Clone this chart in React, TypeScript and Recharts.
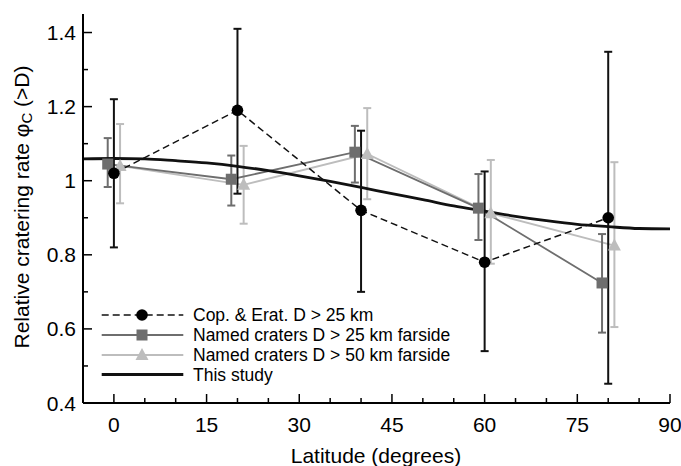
import React from 'react';
import { LineChart, Line, XAxis, YAxis, ErrorBar, Legend } from 'recharts';

// Cop. & Erat. D > 25 km
const latCop = [0, 20, 40, 60, 80];
const valCop = [1.02, 1.19, 0.92, 0.78, 0.9];
const lowCop = [0.82, 0.965, 0.7, 0.54, 0.452];
const highCop = [1.22, 1.41, 1.135, 1.025, 1.348];

// Named craters D > 25 km farside
const latN25 = [-1, 19, 39, 59, 79];
const valN25 = [1.045, 1.004, 1.077, 0.926, 0.724];
const lowN25 = [0.983, 0.933, 0.995, 0.84, 0.59];
const highN25 = [1.115, 1.068, 1.148, 1.018, 0.856];

// Named craters D > 50 km farside
const latN50 = [1, 21, 41, 61, 81];
const valN50 = [1.04, 0.989, 1.072, 0.912, 0.825];
const lowN50 = [0.939, 0.884, 0.95, 0.776, 0.605];
const highN50 = [1.153, 1.094, 1.196, 1.056, 1.05];

// This study
const latStudy = [-5, 0, 5, 10, 15, 20, 25, 30, 35, 40, 45, 50, 55, 60, 65, 70, 75, 80, 85, 90];
const valStudy = [1.059, 1.06, 1.059, 1.054, 1.048, 1.039, 1.027, 1.013, 0.998, 0.982, 0.965, 0.949, 0.932, 0.918, 0.904, 0.892, 0.882, 0.876, 0.871, 0.87];

const xTicks = [0, 5, 10, 15, 20, 25, 30, 35, 40, 45, 50, 55, 60, 65, 70, 75, 80, 85, 90];
const yTicks = [0.4, 0.5, 0.6, 0.7, 0.8, 0.9, 1.0, 1.1, 1.2, 1.3, 1.4];

const legendNames = [
  'Cop. & Erat. D > 25 km',
  'Named craters D > 25 km farside',
  'Named craters D > 50 km farside',
  'This study',
];

const FONT = '"Liberation Sans", Arial, Helvetica, sans-serif';
const DARK = '#6e6e6e';
const LIGHT = '#bdbdbd';
const BLACK = '#111';

const build = (lat: number[], val: number[], low: number[], high: number[]) =>
  lat.map((x, i) => ({ lat: x, v: val[i], err: [val[i] - low[i], high[i] - val[i]] }));

const copData = build(latCop, valCop, lowCop, highCop);
const n25Data = build(latN25, valN25, lowN25, highN25);
const n50Data = build(latN50, valN50, lowN50, highN50);
const studyData = latStudy.map((x, i) => ({ lat: x, v: valStudy[i] }));

const isMajorX = (v: number) => v % 15 === 0;
const isMajorY = (v: number) => Math.round(v * 10) % 2 === 0;

const XTickBottom = (props: any) => {
  const { x, y, payload } = props;
  const major = isMajorX(payload.value);
  return (
    <g>
      <line x1={x} x2={x} y1={y} y2={y - (major ? 9 : 5)} stroke="#000" strokeWidth={1.5} />
      {major && (
        <text x={x} y={y + 21} textAnchor="middle" dominantBaseline="central" fontSize={21} fontFamily={FONT} fill="#000">
          {payload.value}
        </text>
      )}
    </g>
  );
};

const XTickTop = (props: any) => {
  const { x, y, payload } = props;
  const major = isMajorX(payload.value);
  return <line x1={x} x2={x} y1={y} y2={y + (major ? 9 : 5)} stroke="#000" strokeWidth={1.5} />;
};

const YTickLeft = (props: any) => {
  const { x, y, payload } = props;
  const major = isMajorY(payload.value);
  const label = Math.abs(payload.value - 1) < 1e-9 ? '1' : payload.value.toFixed(1);
  return (
    <g>
      <line x1={x} x2={x + (major ? 9 : 5)} y1={y} y2={y} stroke="#000" strokeWidth={1.5} />
      {major && (
        <text x={x - 7} y={y} textAnchor="end" dominantBaseline="central" fontSize={21} fontFamily={FONT} fill="#000">
          {label}
        </text>
      )}
    </g>
  );
};

const YTickRight = (props: any) => {
  const { x, y, payload } = props;
  const major = isMajorY(payload.value);
  return <line x1={x} x2={x - (major ? 9 : 5)} y1={y} y2={y} stroke="#000" strokeWidth={1.5} />;
};

const Circle = (props: any) => {
  const { cx, cy, index } = props;
  return <circle key={`c${index}`} cx={cx} cy={cy} r={5.8} fill="#000" />;
};
const Square = (props: any) => {
  const { cx, cy, index } = props;
  return <rect key={`s${index}`} x={cx - 5.5} y={cy - 5.5} width={11} height={11} fill={DARK} />;
};
const Triangle = (props: any) => {
  const { cx, cy, index } = props;
  return <path key={`t${index}`} d={`M${cx},${cy - 7} L${cx + 6.5},${cy + 5} L${cx - 6.5},${cy + 5} Z`} fill={LIGHT} />;
};

const LegendContent = () => {
  const rows = [12, 32, 52, 71.5];
  const x1 = 6.7;
  const x2 = 88.3;
  const mx = 47;
  return (
    <svg width={400} height={90} style={{ display: 'block' }}>
      <line x1={x1} x2={x2} y1={rows[0]} y2={rows[0]} stroke={BLACK} strokeWidth={1.5} strokeDasharray="7 4" />
      <circle cx={mx} cy={rows[0]} r={5.8} fill="#000" />
      <line x1={x1} x2={x2} y1={rows[1]} y2={rows[1]} stroke={DARK} strokeWidth={1.8} />
      <rect x={mx - 5.5} y={rows[1] - 5.5} width={11} height={11} fill={DARK} />
      <line x1={x1} x2={x2} y1={rows[2]} y2={rows[2]} stroke={LIGHT} strokeWidth={1.8} />
      <path d={`M${mx},${rows[2] - 7} L${mx + 6.5},${rows[2] + 5} L${mx - 6.5},${rows[2] + 5} Z`} fill={LIGHT} />
      <line x1={x1} x2={x2} y1={rows[3]} y2={rows[3]} stroke={BLACK} strokeWidth={2.8} />
      {legendNames.map((n, i) => (
        <text key={n} x={98} y={rows[i]} dominantBaseline="central" fontSize={17.5} fontFamily={FONT} fill="#000">
          {n}
        </text>
      ))}
    </svg>
  );
};

const YLabel = () => (
  <text
    transform="translate(21,207) rotate(-90)"
    textAnchor="middle"
    dominantBaseline="central"
    fontSize={21}
    fontFamily={FONT}
    fill="#000"
  >
    Relative cratering rate φ
    <tspan fontSize={15} dy={5}>C</tspan>
    <tspan dy={-5}> (&gt;D)</tspan>
  </text>
);

const XLabel = () => (
  <text x={376} y={455} textAnchor="middle" dominantBaseline="central" fontSize={21} fontFamily={FONT} fill="#000">
    Latitude (degrees)
  </text>
);

export default function App() {
  return (
    <div style={{ position: 'absolute', left: 0, top: 0, background: '#fff' }}>
      <LineChart width={681} height={466} margin={{ top: 14, right: 11, bottom: 0, left: 0 }}>
        <XAxis
          xAxisId="b"
          dataKey="lat"
          type="number"
          domain={[-5, 90]}
          ticks={xTicks}
          allowDataOverflow
          height={63}
          axisLine={{ stroke: '#000', strokeWidth: 2 }}
          tickLine={false}
          tickSize={0}
          tickMargin={0}
          tick={<XTickBottom />}
          interval={0}
          label={{ content: () => <XLabel /> }}
        />
        <XAxis
          xAxisId="t"
          orientation="top"
          dataKey="lat"
          type="number"
          domain={[-5, 90]}
          ticks={xTicks}
          allowDataOverflow
          height={0}
          axisLine={{ stroke: '#000', strokeWidth: 2 }}
          tickLine={false}
          tickSize={0}
          tickMargin={0}
          tick={<XTickTop />}
          interval={0}
        />
        <YAxis
          yAxisId="l"
          type="number"
          domain={[0.4, 1.45]}
          ticks={yTicks}
          allowDataOverflow
          width={83}
          axisLine={{ stroke: '#000', strokeWidth: 2 }}
          tickLine={false}
          tickSize={0}
          tickMargin={0}
          tick={<YTickLeft />}
          interval={0}
          label={{ content: () => <YLabel /> }}
        />
        <YAxis
          yAxisId="r"
          orientation="right"
          type="number"
          domain={[0.4, 1.45]}
          ticks={yTicks}
          allowDataOverflow
          width={0}
          axisLine={{ stroke: '#000', strokeWidth: 2 }}
          tickLine={false}
          tickSize={0}
          tickMargin={0}
          tick={<YTickRight />}
          interval={0}
        />
        <Line
          xAxisId="b"
          yAxisId="l"
          data={n50Data}
          dataKey="v"
          stroke={LIGHT}
          strokeWidth={1.8}
          dot={<Triangle />}
          activeDot={false}
          isAnimationActive={false}
        >
          <ErrorBar dataKey="err" width={4} stroke={LIGHT} strokeWidth={2} direction="y" />
        </Line>
        <Line
          xAxisId="b"
          yAxisId="l"
          data={n25Data}
          dataKey="v"
          stroke={DARK}
          strokeWidth={1.8}
          dot={<Square />}
          activeDot={false}
          isAnimationActive={false}
        >
          <ErrorBar dataKey="err" width={4} stroke={DARK} strokeWidth={2} direction="y" />
        </Line>
        <Line
          xAxisId="b"
          yAxisId="l"
          data={studyData}
          dataKey="v"
          type="monotone"
          stroke={BLACK}
          strokeWidth={2.8}
          dot={false}
          activeDot={false}
          isAnimationActive={false}
        />
        <Line
          xAxisId="b"
          yAxisId="l"
          data={copData}
          dataKey="v"
          stroke={BLACK}
          strokeWidth={1.5}
          strokeDasharray="7 4"
          dot={<Circle />}
          activeDot={false}
          isAnimationActive={false}
        >
          <ErrorBar dataKey="err" width={4} stroke={BLACK} strokeWidth={2} direction="y" />
        </Line>
        <Legend
          layout="horizontal"
          verticalAlign="middle"
          align="center"
          content={() => <LegendContent />}
          wrapperStyle={{ position: 'absolute', left: 95, top: 303, width: 400, height: 90 }}
        />
      </LineChart>
    </div>
  );
}
